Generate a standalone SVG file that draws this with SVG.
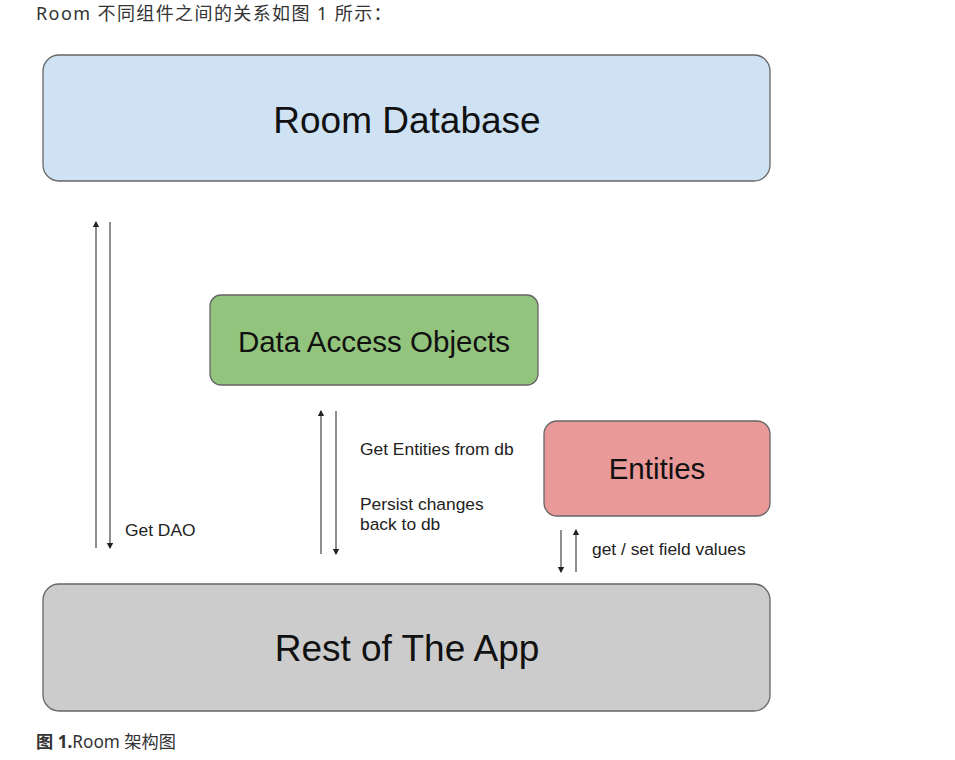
<svg xmlns="http://www.w3.org/2000/svg" width="955" height="760" viewBox="0 0 955 760">
<style>
.box{stroke:#666;stroke-width:1.3}
.big{font-family:"Liberation Sans",Arial,sans-serif;fill:#111}
.lbl{font-family:"Liberation Sans",Arial,sans-serif;font-size:17.4px;fill:#222}
.cn{font-family:"Noto Sans","Noto Sans CJK SC",sans-serif;fill:#333}
.ln{stroke:#333;stroke-width:1.1;fill:none}
</style>
<defs>
<marker id="ah" viewBox="0 0 6 8" refX="5" refY="4" markerWidth="6" markerHeight="8" markerUnits="userSpaceOnUse" orient="auto">
<path d="M0,0.8 L6,4 L0,7.2 Z" fill="#222"/>
</marker>
</defs>
<rect width="955" height="760" fill="#fff"/>
<text class="cn" x="36" y="20" font-size="18" letter-spacing="1.4">Room 不同组件之间的关系如图 1 所示：</text>
<g id="room-database">
<rect class="box" x="43" y="55" width="727" height="126" rx="16" fill="#cfe2f3"/>
<text class="big" x="407" y="133" font-size="37" text-anchor="middle">Room Database</text>
</g>
<g id="data-access-objects">
<rect class="box" x="210" y="295" width="328" height="90" rx="11" fill="#93c47d"/>
<text class="big" x="374" y="352" font-size="29.5" text-anchor="middle">Data Access Objects</text>
</g>
<g id="entities">
<rect class="box" x="544" y="421" width="226" height="95" rx="13" fill="#ea9999"/>
<text class="big" x="657" y="479" font-size="29.5" text-anchor="middle">Entities</text>
</g>
<g id="rest-of-the-app">
<rect class="box" x="43" y="584" width="727" height="127" rx="16" fill="#cccccc"/>
<text class="big" x="407" y="661" font-size="37" text-anchor="middle">Rest of The App</text>
</g>
<g id="connectors">
<line class="ln" x1="96" y1="548" x2="96" y2="222" marker-end="url(#ah)"/>
<line class="ln" x1="110" y1="222" x2="110" y2="548" marker-end="url(#ah)"/>
<line class="ln" x1="321" y1="554" x2="321" y2="411" marker-end="url(#ah)"/>
<line class="ln" x1="336" y1="411" x2="336" y2="554" marker-end="url(#ah)"/>
<line class="ln" x1="561" y1="530" x2="561" y2="572" marker-end="url(#ah)"/>
<line class="ln" x1="576" y1="572" x2="576" y2="530" marker-end="url(#ah)"/>
<text class="lbl" x="125" y="536">Get DAO</text>
<text class="lbl" x="360" y="455">Get Entities from db</text>
<text class="lbl" x="360" y="510">Persist changes</text>
<text class="lbl" x="360" y="530">back to db</text>
<text class="lbl" x="592" y="555">get / set field values</text>
</g>
<text class="cn" x="36" y="748" font-size="17.2"><tspan font-weight="bold">图 1.</tspan>Room 架构图</text>
</svg>
